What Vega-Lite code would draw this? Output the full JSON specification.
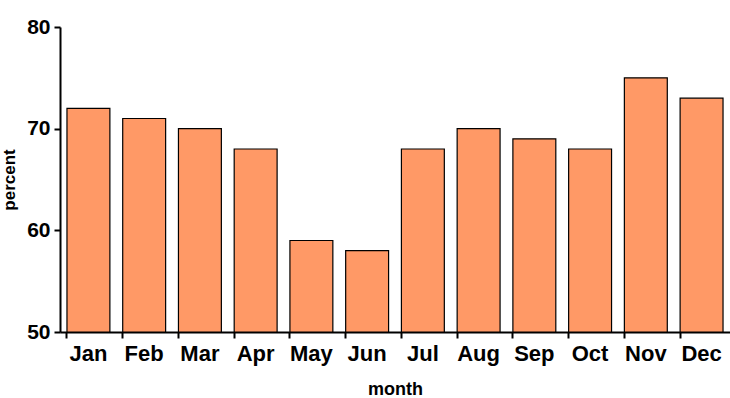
{
  "$schema": "https://vega.github.io/schema/vega-lite/v6.json",
  "width": 670,
  "height": 305,
  "autosize": {"type": "none"},
  "padding": {"left": 60, "top": 27, "right": 0, "bottom": 66},
  "background": "white",
  "config": {"view": {"stroke": null}, "font": "Liberation Sans"},
  "data": {"values": [
    {"month": "Jan", "percent": 72},
    {"month": "Feb", "percent": 71},
    {"month": "Mar", "percent": 70},
    {"month": "Apr", "percent": 68},
    {"month": "May", "percent": 59},
    {"month": "Jun", "percent": 58},
    {"month": "Jul", "percent": 68},
    {"month": "Aug", "percent": 70},
    {"month": "Sep", "percent": 69},
    {"month": "Oct", "percent": 68},
    {"month": "Nov", "percent": 75},
    {"month": "Dec", "percent": 73}
  ]},
  "mark": {"type": "bar", "fill": "#FF9966", "stroke": "black", "strokeWidth": 1.2},
  "encoding": {
    "x": {
      "field": "month", "type": "nominal", "sort": null,
      "scale": {"paddingInner": 0.23, "paddingOuter": 0.125},
      "axis": {
        "title": "month", "labelAngle": 0, "bandPosition": 0,
        "labelFont": "Liberation Sans", "labelFontWeight": "bold", "labelFontSize": 22, "labelColor": "black",
        "labelPadding": 5,
        "titleFont": "Liberation Sans", "titleFontWeight": "bold", "titleFontSize": 18, "titleColor": "black",
        "titlePadding": 16,
        "domainColor": "black", "domainWidth": 2, "tickColor": "black", "tickWidth": 2, "tickSize": 6,
        "grid": false
      }
    },
    "y": {
      "field": "percent", "type": "quantitative",
      "scale": {"domain": [50, 80], "zero": false, "nice": false},
      "axis": {
        "title": "percent", "values": [50, 60, 70, 80],
        "labelFont": "Liberation Sans", "labelFontWeight": "bold", "labelFontSize": 21, "labelColor": "black",
        "labelPadding": 4,
        "titleFont": "Liberation Sans", "titleFontWeight": "bold", "titleFontSize": 17, "titleColor": "black",
        "titlePadding": 8,
        "domainColor": "black", "domainWidth": 2, "tickColor": "black", "tickWidth": 2, "tickSize": 6,
        "grid": false
      }
    },
    "y2": {"datum": 50}
  }
}
